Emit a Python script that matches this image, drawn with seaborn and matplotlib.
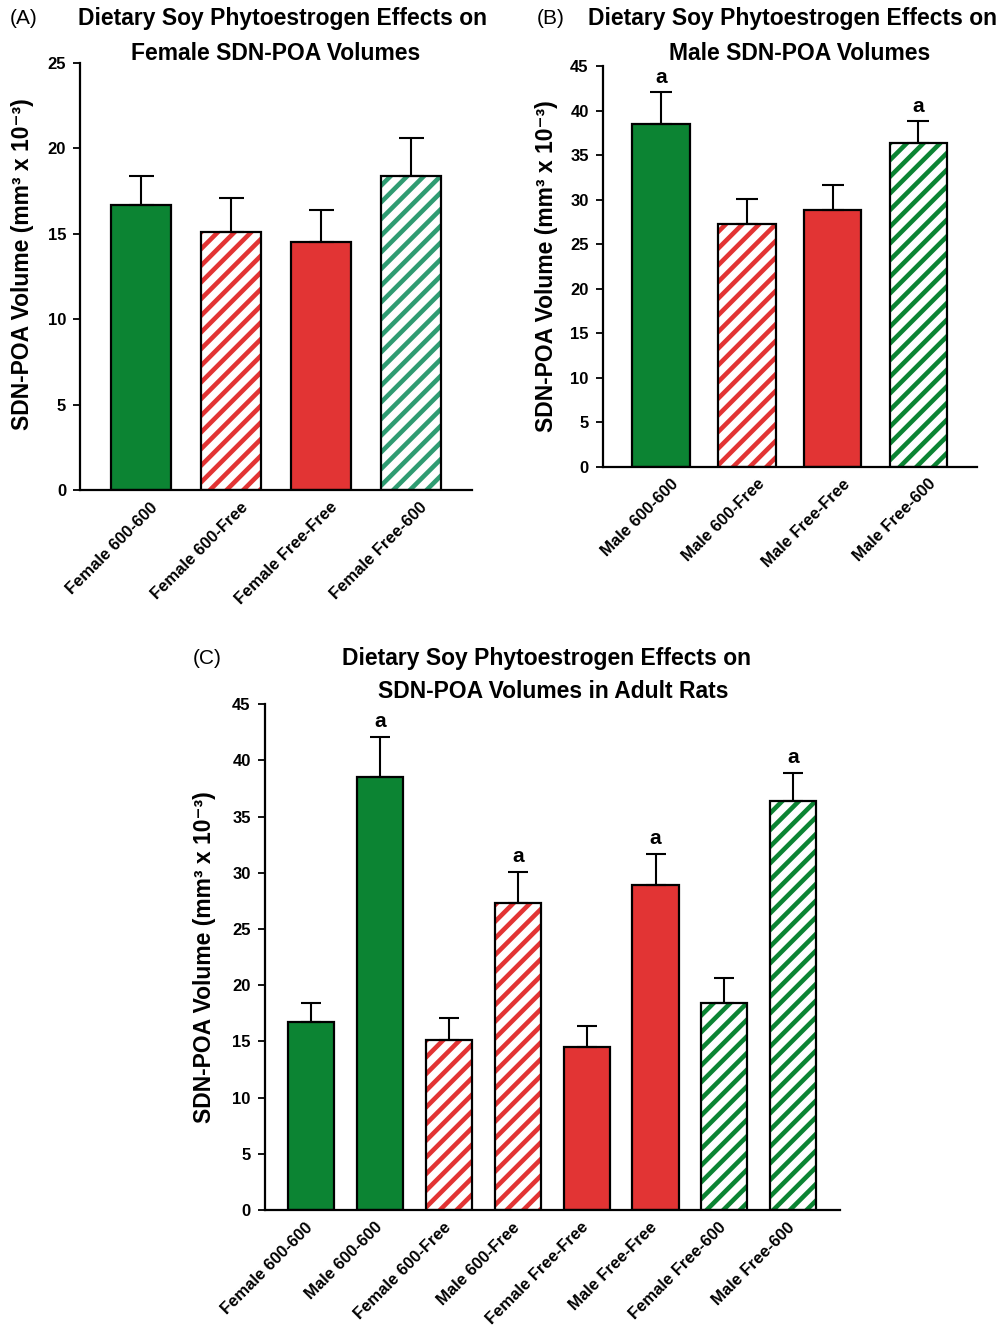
import matplotlib
matplotlib.use("Agg")
import matplotlib.pyplot as plt
import matplotlib.transforms as mtransforms
from matplotlib.patches import Rectangle
import seaborn as sns
import numpy as np

# --- Data ---
DIETS = ["600-600", "600-Free", "Free-Free", "Free-600"]

female_labels = ["Female 600-600", "Female 600-Free", "Female Free-Free", "Female Free-600"]
female_mean = [16.7, 15.1, 14.5, 18.4]
female_sem = [1.7, 2.0, 1.9, 2.2]
female_sig = ["", "", "", ""]

male_labels = ["Male 600-600", "Male 600-Free", "Male Free-Free", "Male Free-600"]
male_mean = [38.5, 27.3, 28.9, 36.4]
male_sem = [3.6, 2.8, 2.8, 2.5]
male_sig = ["a", "", "", "a"]

# panel C significance marks (vs. matching female group)
combined_sig = ["", "a", "", "a", "", "a", "", "a"]

# --- Styles ---
GREEN = "#0c8433"
TEAL = "#2f9c72"
RED = "#e23434"
DIET_STYLE = {
    "600-600": dict(face=GREEN, hatch=None),
    "600-Free": dict(face="white", hatch=RED),
    "Free-Free": dict(face=RED, hatch=None),
    "Free-600": dict(face="white", hatch=GREEN),
}

YLABEL = "SDN-POA Volume (mm\u00b3 x 10\u207b\u00b3)"

sns.set_theme(style="ticks")
plt.rcParams["font.family"] = ["Liberation Sans", "DejaVu Sans"]
plt.rcParams["font.weight"] = "bold"
plt.rcParams["hatch.linewidth"] = 3.3
for k in ["text.color", "axes.labelcolor", "xtick.color", "ytick.color"]:
    plt.rcParams[k] = "black"


def draw_panel(ax, labels, means, sems, diets, sig, ymax, ystep, capsize=8,
               width=0.67, xlab_shift=0):
    faces = [DIET_STYLE[d]["face"] for d in diets]
    sns.barplot(x=labels, y=means, hue=labels, palette=faces, legend=False,
                width=width, linewidth=0, edgecolor="none", saturation=1, ax=ax)
    for p, d in zip(ax.patches, diets):
        hc = DIET_STYLE[d]["hatch"]
        if hc is not None:
            p.set_facecolor("white")
            p.set_edgecolor(hc)
            p.set_hatch("//")
        # black outline on top of every bar
        ax.add_patch(Rectangle(p.get_xy(), p.get_width(), p.get_height(),
                               fill=False, ec="black", lw=1.6, zorder=3))

    x = np.arange(len(labels))
    ax.errorbar(x, means, yerr=[np.zeros(len(means)), sems], fmt="none",
                ecolor="black", elinewidth=1.5, capsize=capsize, capthick=1.5, zorder=2)
    for xi, m, s, t in zip(x, means, sems, sig):
        if t:
            ax.text(xi, m + s + ymax * 0.012, t, ha="center", va="bottom",
                    fontsize=15, fontweight="bold")

    ax.set_ylim(0, ymax)
    ax.set_xlim(-0.68, len(labels) - 1 + 0.68)
    ax.set_yticks(np.arange(0, ymax + 0.1, ystep))
    ax.set_xlabel("")
    ax.set_ylabel(YLABEL, fontsize=16.5, fontweight="bold")
    sns.despine(ax=ax)
    for sp in ["left", "bottom"]:
        ax.spines[sp].set_linewidth(1.6)
        ax.spines[sp].set_color("black")
    ax.tick_params(axis="y", length=5, width=1.3, labelsize=12, colors="black", pad=5)
    ax.tick_params(axis="x", length=0, labelsize=12, colors="black", pad=7)
    for lab in ax.get_yticklabels():
        lab.set_fontweight("bold")
    shift = mtransforms.ScaledTranslation(xlab_shift / 100.0, 0, ax.figure.dpi_scale_trans)
    for lab in ax.get_xticklabels():
        lab.set_rotation(45)
        lab.set_ha("right")
        lab.set_rotation_mode("anchor")
        lab.set_fontweight("bold")
        lab.set_transform(lab.get_transform() + shift)


fig = plt.figure(figsize=(10.06, 13.26), dpi=100)

# Panel A
axA = fig.add_axes([0.0795, 0.6305, 0.3895, 0.322])
draw_panel(axA, female_labels, female_mean, female_sem, DIETS, female_sig, 25, 5,
           capsize=9, xlab_shift=9)
for p, d in zip(axA.patches, DIETS):
    if d == "Free-600":
        p.set_edgecolor(TEAL)
axA.yaxis.set_label_coords(-0.118, 0.53)

# Panel B
axB = fig.add_axes([0.599, 0.648, 0.372, 0.302])
draw_panel(axB, male_labels, male_mean, male_sem, DIETS, male_sig, 45, 5,
           capsize=8, xlab_shift=10)
axB.yaxis.set_label_coords(-0.118, 0.5)

# Panel C: interleave female / male groups
comb_labels, comb_mean, comb_sem, comb_diets = [], [], [], []
for i, d in enumerate(DIETS):
    comb_labels += [female_labels[i], male_labels[i]]
    comb_mean += [female_mean[i], male_mean[i]]
    comb_sem += [female_sem[i], male_sem[i]]
    comb_diets += [d, d]

axC = fig.add_axes([0.263, 0.0875, 0.572, 0.3815])
draw_panel(axC, comb_labels, comb_mean, comb_sem, comb_diets, combined_sig, 45, 5,
           capsize=7, xlab_shift=-6)
axC.yaxis.set_label_coords(-0.085, 0.5)

# Titles and panel letters
H = 1326.0
W = 1006.0
def ftext(x, y, s, **kw):
    fig.text(x / W, 1 - y / H, s, va="center", **kw)

ftext(10, 19, "(A)", fontsize=15, fontweight="normal")
ftext(282, 19, "Dietary Soy Phytoestrogen Effects on", ha="center", fontsize=16.5, fontweight="bold")
ftext(276, 53, "Female SDN-POA Volumes", ha="center", fontsize=16.5, fontweight="bold")

ftext(537, 19, "(B)", fontsize=15, fontweight="normal")
ftext(792, 19, "Dietary Soy Phytoestrogen Effects on", ha="center", fontsize=16.5, fontweight="bold")
ftext(800, 53, "Male SDN-POA Volumes", ha="center", fontsize=16.5, fontweight="bold")

ftext(193, 659, "(C)", fontsize=15, fontweight="normal")
ftext(546, 658, "Dietary Soy Phytoestrogen Effects on", ha="center", fontsize=16.5, fontweight="bold")
ftext(553, 692, "SDN-POA Volumes in Adult Rats", ha="center", fontsize=16.5, fontweight="bold")

fig.savefig("out.png", dpi=100, facecolor="white")
